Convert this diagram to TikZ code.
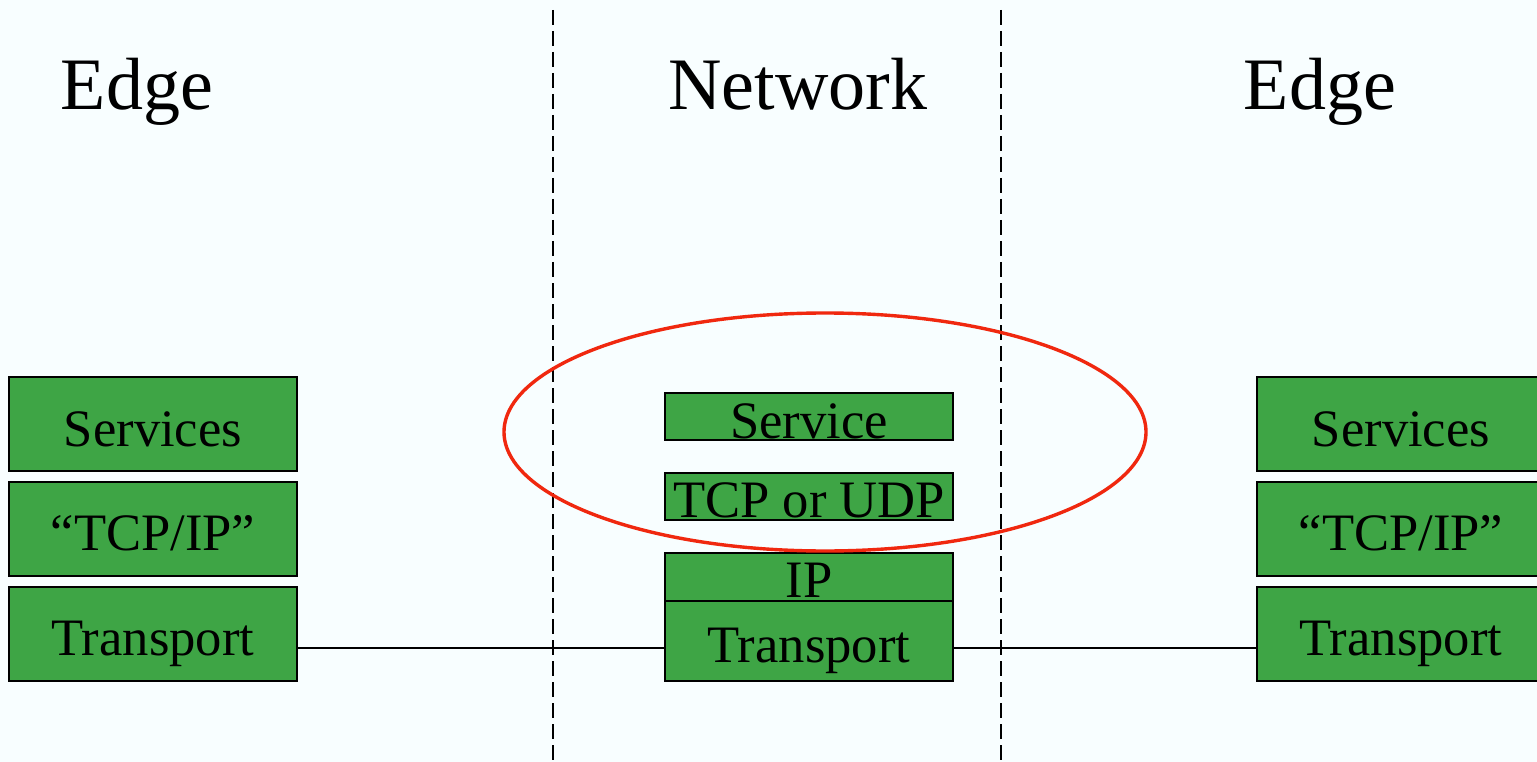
\documentclass[tikz,border=0pt]{standalone}
\usepackage{fontspec}
\setmainfont{Liberation Serif}
\definecolor{bg}{RGB}{248,254,255}
\definecolor{boxgreen}{RGB}{62,165,69}
\definecolor{ringred}{RGB}{240,40,15}
\begin{document}
\begin{tikzpicture}[x=1pt,y=-1pt,
  box/.style={draw=black,line width=2pt,fill=boxgreen,anchor=north west,inner sep=0pt,outer sep=0pt,minimum width=288pt},
  lbl/.style={anchor=base,inner sep=0pt,font=\fontsize{52.6}{60}\selectfont},
  head/.style={anchor=base,inner sep=0pt,font=\fontsize{74}{84}\selectfont},
  divider/.style={line width=1.8pt,dash pattern=on 15pt off 6pt},
  link/.style={line width=2pt}]
\fill[bg] (0,0) rectangle (1537,762);
\useasboundingbox (0,0) rectangle (1537,762);
% headings
\node[head] (h1) at (137,110) {Edge};
\node[head] (h2) at (798,110) {Network};
\node[head] (h3) at (1320,110) {Edge};
% left stack
\node[box,minimum height=94pt] (ls) at (9,377) {};
\node[box,minimum height=94pt] (lp) at (9,482) {};
\node[box,minimum height=94pt] (lt) at (9,587) {};
\node[lbl] (lsT) at (153,446) {Services};
\node[lbl] (lpT) at (153,550) {“TCP/IP”};
\node[lbl] (ltT) at (153,655) {Transport};
% right stack
\node[box,minimum height=94pt] (rs) at (1257,377) {};
\node[box,minimum height=94pt] (rp) at (1257,482) {};
\node[box,minimum height=94pt] (rt) at (1257,587) {};
\node[lbl] (rsT) at (1401,446) {Services};
\node[lbl] (rpT) at (1401,550) {“TCP/IP”};
\node[lbl] (rtT) at (1401,655) {Transport};
% middle stack
\node[box,minimum height=47pt] (ms) at (665,393) {};
\node[box,minimum height=47pt] (mu) at (665,473) {};
\node[box,minimum height=48pt] (mi) at (665,553) {};
\node[box,minimum height=80pt] (mt) at (665,601) {};
\node[lbl] (msT) at (809,438) {Service};
\node[lbl] (muT) at (809,517) {TCP or UDP};
\node[lbl] (miT) at (809,597) {IP};
\node[lbl] (mtT) at (809,662) {Transport};
% connectors
\draw[link] (lt.east |- 0,648) -- (mt.west |- 0,648);
\draw[link] (mt.east |- 0,648) -- (rt.west |- 0,648);
% dividers
\coordinate (d1a) at (553,10); \coordinate (d1b) at (553,762);
\coordinate (d2a) at (1001,10); \coordinate (d2b) at (1001,762);
\draw[divider] (d1a) -- (d1b);
\draw[divider] (d2a) -- (d2b);
% ring
\draw[ringred,line width=3.4pt] (825,432) ellipse [x radius=321pt,y radius=119pt];
\end{tikzpicture}
\end{document}
